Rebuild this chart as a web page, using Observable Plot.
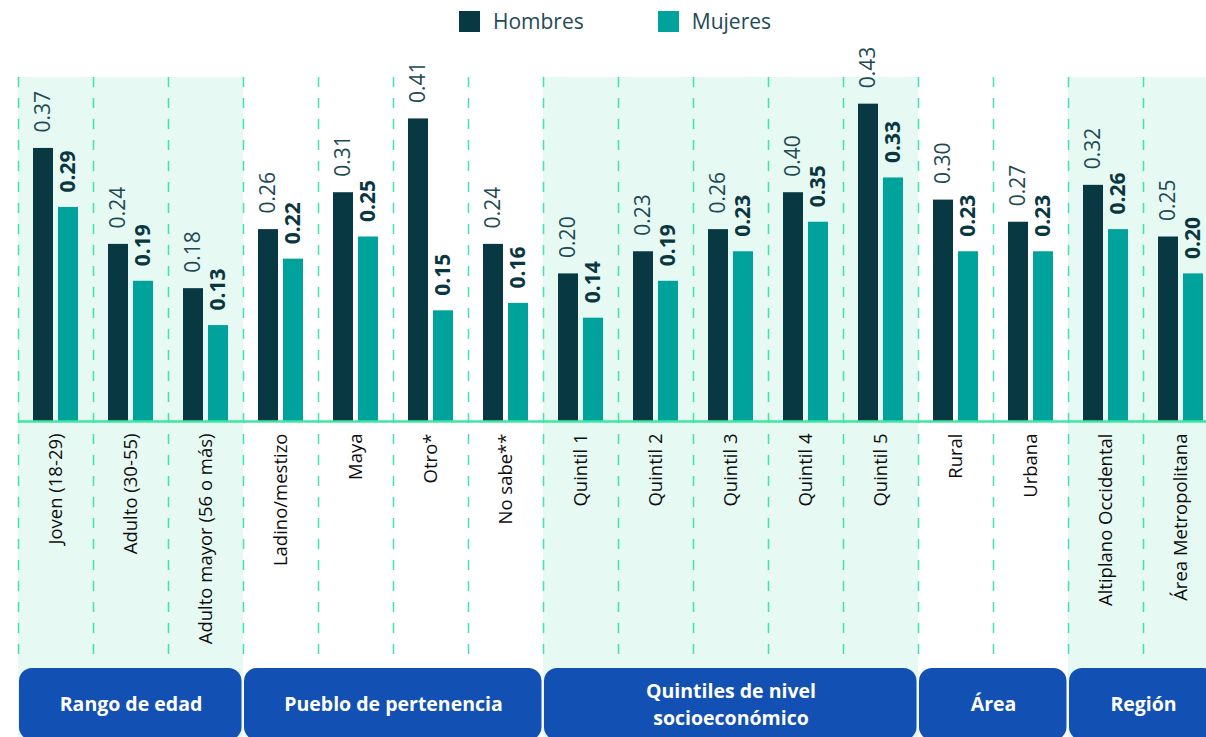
<!DOCTYPE html>
<html><head><meta charset="utf-8">
<script src="https://cdn.jsdelivr.net/npm/d3@7"></script>
<script src="https://cdn.jsdelivr.net/npm/@observablehq/plot@0.6"></script>
<style>
html,body{margin:0;padding:0;background:#fff;overflow:hidden;width:1206px;height:737px;font-family:"Open Sans","Noto Sans",sans-serif;}
#legend{height:42px;display:flex;align-items:center;justify-content:center;padding-left:24px;box-sizing:border-box;}
.item{display:flex;align-items:center;margin:0 37px;font-size:21px;color:#1f4a55;}
.sw{width:21px;height:21px;margin-right:13px;}
#chart svg{display:block;}
</style></head><body>
<div id="legend"></div><div id="chart"></div>
<script>
// ---- Data ----
const categorias = ["Joven (18-29)", "Adulto (30-55)", "Adulto mayor (56 o más)", "Ladino/mestizo", "Maya", "Otro*", "No sabe**", "Quintil 1", "Quintil 2", "Quintil 3", "Quintil 4", "Quintil 5", "Rural", "Urbana", "Altiplano Occidental", "Área Metropolitana"];
// printed values
const hombres = [0.37, 0.24, 0.18, 0.26, 0.31, 0.41, 0.24, 0.20, 0.23, 0.26, 0.40, 0.43, 0.30, 0.27, 0.32, 0.25];
const mujeres = [0.29, 0.19, 0.13, 0.22, 0.25, 0.15, 0.16, 0.14, 0.19, 0.23, 0.35, 0.33, 0.23, 0.23, 0.26, 0.20];
// bar lengths as drawn in the reference (Quintil 4 bars are drawn shorter than their labels)
const hombresBarra = [0.37, 0.24, 0.18, 0.26, 0.31, 0.41, 0.24, 0.20, 0.23, 0.26, 0.31, 0.43, 0.30, 0.27, 0.32, 0.25];
const mujeresBarra = [0.29, 0.19, 0.13, 0.22, 0.25, 0.15, 0.16, 0.14, 0.19, 0.23, 0.27, 0.33, 0.23, 0.23, 0.26, 0.20];
const gruposNombres = ["Rango de edad", "Pueblo de pertenencia", "Quintiles de nivel\nsocioeconómico", "Área", "Región"];
const gruposTam = [3, 4, 5, 2, 2];
const series = ["Hombres", "Mujeres"];
const colores = ["#083842", "#00a39c"];

// ---- Legend ----
const leg = document.getElementById("legend");
series.forEach((s, k) => {
  const it = document.createElement("div"); it.className = "item";
  const sw = document.createElement("div"); sw.className = "sw"; sw.style.background = colores[k];
  const tx = document.createElement("span"); tx.textContent = s;
  it.appendChild(sw); it.appendChild(tx); leg.appendChild(it);
});

// ---- Tables ----
const n = categorias.length;
const rows = categorias.map((c, i) => ({c, i, h: hombres[i], m: mujeres[i], hb: hombresBarra[i], mb: mujeresBarra[i]}));
let acc = 0;
const grupos = gruposNombres.map((g, k) => { const r = {g, k, x1: acc, x2: acc + gruposTam[k]}; acc += gruposTam[k]; return r; });

const mint = "#3ee6a2";
const chart = Plot.plot({
  width: 1206, height: 695, margin: 0,
  style: {fontFamily: "'Open Sans','Noto Sans',sans-serif", background: "white"},
  x: {type: "linear", domain: [0, n], range: [18, 1218], axis: null},
  y: {type: "linear", domain: [0, 0.5], range: [379, 10], axis: null},
  marks: [
    Plot.rect(grupos.filter(g => g.k % 2 === 0), {x1: "x1", x2: "x2", fill: "#e6f9f2", insetTop: 35}),
    Plot.ruleX(d3.range(n + 1), {x: d => d, stroke: mint, strokeWidth: 1.5, strokeDasharray: "10,11", insetTop: 35, insetBottom: 72}),
    Plot.rect(rows, {x1: "i", x2: d => d.i + 1, y1: () => 0, y2: "hb", insetLeft: 15, insetRight: 40, fill: colores[0]}),
    Plot.rect(rows, {x1: "i", x2: d => d.i + 1, y1: () => 0, y2: "mb", insetLeft: 40, insetRight: 15, fill: colores[1]}),
    Plot.ruleY([0], {x1: () => 0, x2: () => n, stroke: mint, strokeWidth: 2.5}),
    Plot.text(rows, {x: d => d.i + 0.5, y: "hb", text: d => d.h.toFixed(2), rotate: -90, textAnchor: "start", dx: -12.5, dy: -16, fontSize: 21, fontWeight: 400, fill: "#1d4a54"}),
    Plot.text(rows, {x: d => d.i + 0.5, y: "mb", text: d => d.m.toFixed(2), rotate: -90, textAnchor: "start", dx: 12.5, dy: -15, fontSize: 21, fontWeight: 700, fill: "#0a3640"}),
    Plot.text(rows, {x: d => d.i + 0.5, y: () => 0, text: "c", rotate: -90, textAnchor: "end", dy: 12, fontSize: 18.5, fontWeight: 500, fill: "#0d0d0d"}),
    Plot.rect(grupos, {x1: "x1", x2: "x2", insetTop: 626, insetBottom: -3, insetLeft: 1, insetRight: 1.5, rx: 13, fill: "#1350b3"}),
    Plot.text(grupos, {x: d => (d.x1 + d.x2) / 2, text: "g", frameAnchor: "top", lineAnchor: "middle", dy: 660, fill: "white", fontSize: 19.5, fontWeight: 700, lineHeight: 1.4})
  ]
});
document.getElementById("chart").appendChild(chart);
</script>
</body></html>
